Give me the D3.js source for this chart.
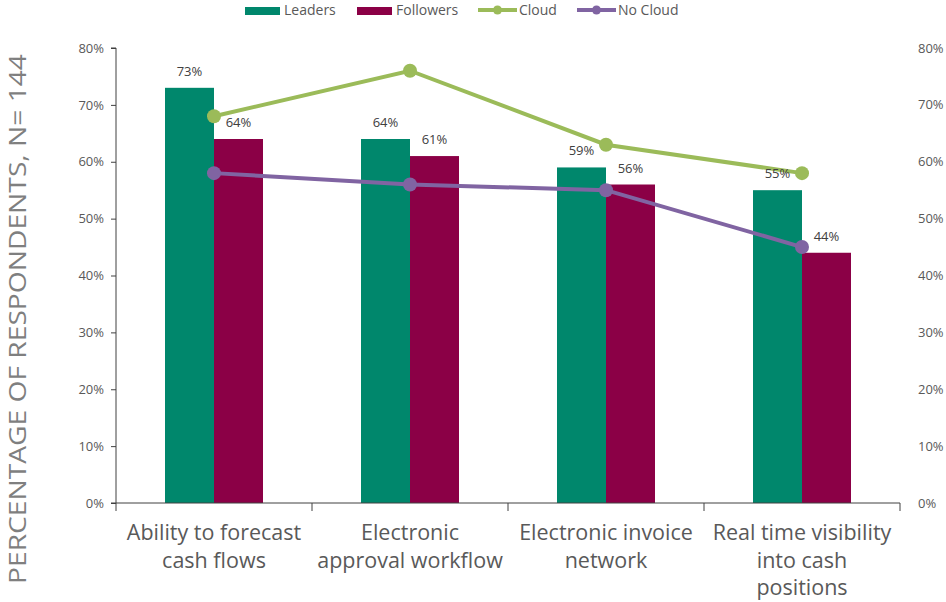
<!DOCTYPE html>
<html><head><meta charset="utf-8">
<script src="https://cdn.jsdelivr.net/npm/d3@7"></script>
<style>body{margin:0;background:#fff;} text{font-family:"Open Sans","Noto Sans",sans-serif;}</style>
</head><body>
<svg id="c" width="946" height="602"></svg>
<script>
const categories = [["Ability to forecast","cash flows"],["Electronic","approval workflow"],["Electronic invoice","network"],["Real time visibility","into cash","positions"]];
const leaders = [73, 64, 59, 55];
const followers = [64, 61, 56, 44];
const cloud = [68, 76, 63, 58];
const noCloud = [58, 56, 55, 45];
const yTicks = [0,10,20,30,40,50,60,70,80];
const colors = {leaders:"#00876C", followers:"#8B0046", cloud:"#9BBB59", noCloud:"#8064A2"};

const svg = d3.select("#c");
const x0 = 116, x1 = 900, yTop = 48, yBot = 503;
const x = d3.scaleBand().domain(d3.range(categories.length)).range([x0, x1]);
const y = d3.scaleLinear().domain([0, 80]).range([yBot, yTop]);
const barW = x.bandwidth() * 0.25;
const textCol = "#595959";

// left axis
const gL = svg.append("g").attr("transform", `translate(${x0},0)`)
  .call(d3.axisLeft(y).tickValues(yTicks).tickSize(5).tickFormat(d => d + "%"));
gL.select(".domain").attr("stroke", "#404040").attr("d", `M-5,${yTop}H0V${yBot}H-5`);
gL.selectAll(".tick line").attr("stroke", "#404040");
gL.selectAll(".tick text").attr("fill", textCol).attr("font-size", 13).attr("x", -12)
  .style("font-family", "'Open Sans',sans-serif");

// right axis labels
svg.append("g").selectAll("text").data(yTicks).join("text")
  .attr("x", 918).attr("y", d => y(d)).attr("dy", "0.35em")
  .attr("fill", textCol).attr("font-size", 13).text(d => d + "%");

// bars
const bars = svg.append("g");
bars.selectAll(".l").data(leaders).join("rect")
  .attr("x", (d, i) => x(i) + x.bandwidth()/2 - barW).attr("width", barW)
  .attr("y", d => y(d)).attr("height", d => yBot - y(d)).attr("fill", colors.leaders);
bars.selectAll(".f").data(followers).join("rect")
  .attr("x", (d, i) => x(i) + x.bandwidth()/2).attr("width", barW)
  .attr("y", d => y(d)).attr("height", d => yBot - y(d)).attr("fill", colors.followers);

// bottom axis
const gB = svg.append("g").attr("transform", `translate(0,${yBot})`);
gB.append("line").attr("x1", x0).attr("x2", x1).attr("stroke", "#404040");
gB.selectAll(".tk").data(d3.range(categories.length + 1)).join("line")
  .attr("x1", i => x0 + i * x.step()).attr("x2", i => x0 + i * x.step())
  .attr("y1", 0).attr("y2", 8).attr("stroke", "#404040");

// category labels
categories.forEach((lines, i) => {
  const t = svg.append("text").attr("x", x(i) + x.bandwidth()/2).attr("y", 540)
    .attr("text-anchor", "middle").attr("fill", textCol).attr("font-size", 21.5);
  lines.forEach((ln, j) => t.append("tspan").attr("x", x(i) + x.bandwidth()/2).attr("dy", j ? 27.5 : 0).text(ln));
});

// lines
const cx = i => x(i) + x.bandwidth()/2;
function drawLine(data, col) {
  svg.append("path").datum(data).attr("fill", "none").attr("stroke", col).attr("stroke-width", 4)
    .attr("d", d3.line().x((d, i) => cx(i)).y(d => y(d)));
  svg.append("g").selectAll("circle").data(data).join("circle")
    .attr("cx", (d, i) => cx(i)).attr("cy", d => y(d)).attr("r", 7).attr("fill", col);
}
drawLine(cloud, colors.cloud);
drawLine(noCloud, colors.noCloud);

// data labels
const lab = svg.append("g").attr("fill", "#404040").attr("font-size", 13).attr("text-anchor", "middle");
lab.selectAll(".a").data(leaders).join("text")
  .attr("x", (d, i) => cx(i) - barW/2).attr("y", d => y(d) - 12).text(d => d + "%");
lab.selectAll(".b").data(followers).join("text")
  .attr("x", (d, i) => cx(i) + barW/2).attr("y", d => y(d) - 12).text(d => d + "%");

// y title
svg.append("text").attr("transform", "translate(26,319) rotate(-90)").attr("text-anchor", "middle")
  .attr("fill", "#7F7F7F").attr("font-size", 24).attr("textLength", 530).attr("lengthAdjust", "spacingAndGlyphs")
  .text("PERCENTAGE OF RESPONDENTS, N= 144");

// legend
const leg = svg.append("g").attr("font-size", 14).attr("fill", textCol);
leg.append("rect").attr("x", 245).attr("y", 7).attr("width", 35).attr("height", 8).attr("fill", colors.leaders);
leg.append("text").attr("x", 284).attr("y", 15).text("Leaders");
leg.append("rect").attr("x", 357).attr("y", 7).attr("width", 35).attr("height", 8).attr("fill", colors.followers);
leg.append("text").attr("x", 396).attr("y", 15).text("Followers");
[[478, colors.cloud, "Cloud"], [577, colors.noCloud, "No Cloud"]].forEach(([lx, col, name]) => {
  leg.append("line").attr("x1", lx).attr("x2", lx + 39).attr("y1", 10).attr("y2", 10).attr("stroke", col).attr("stroke-width", 4);
  leg.append("circle").attr("cx", lx + 19.5).attr("cy", 10).attr("r", 4.5).attr("fill", col);
  leg.append("text").attr("x", lx + 41).attr("y", 15).text(name);
});
</script>
</body></html>
